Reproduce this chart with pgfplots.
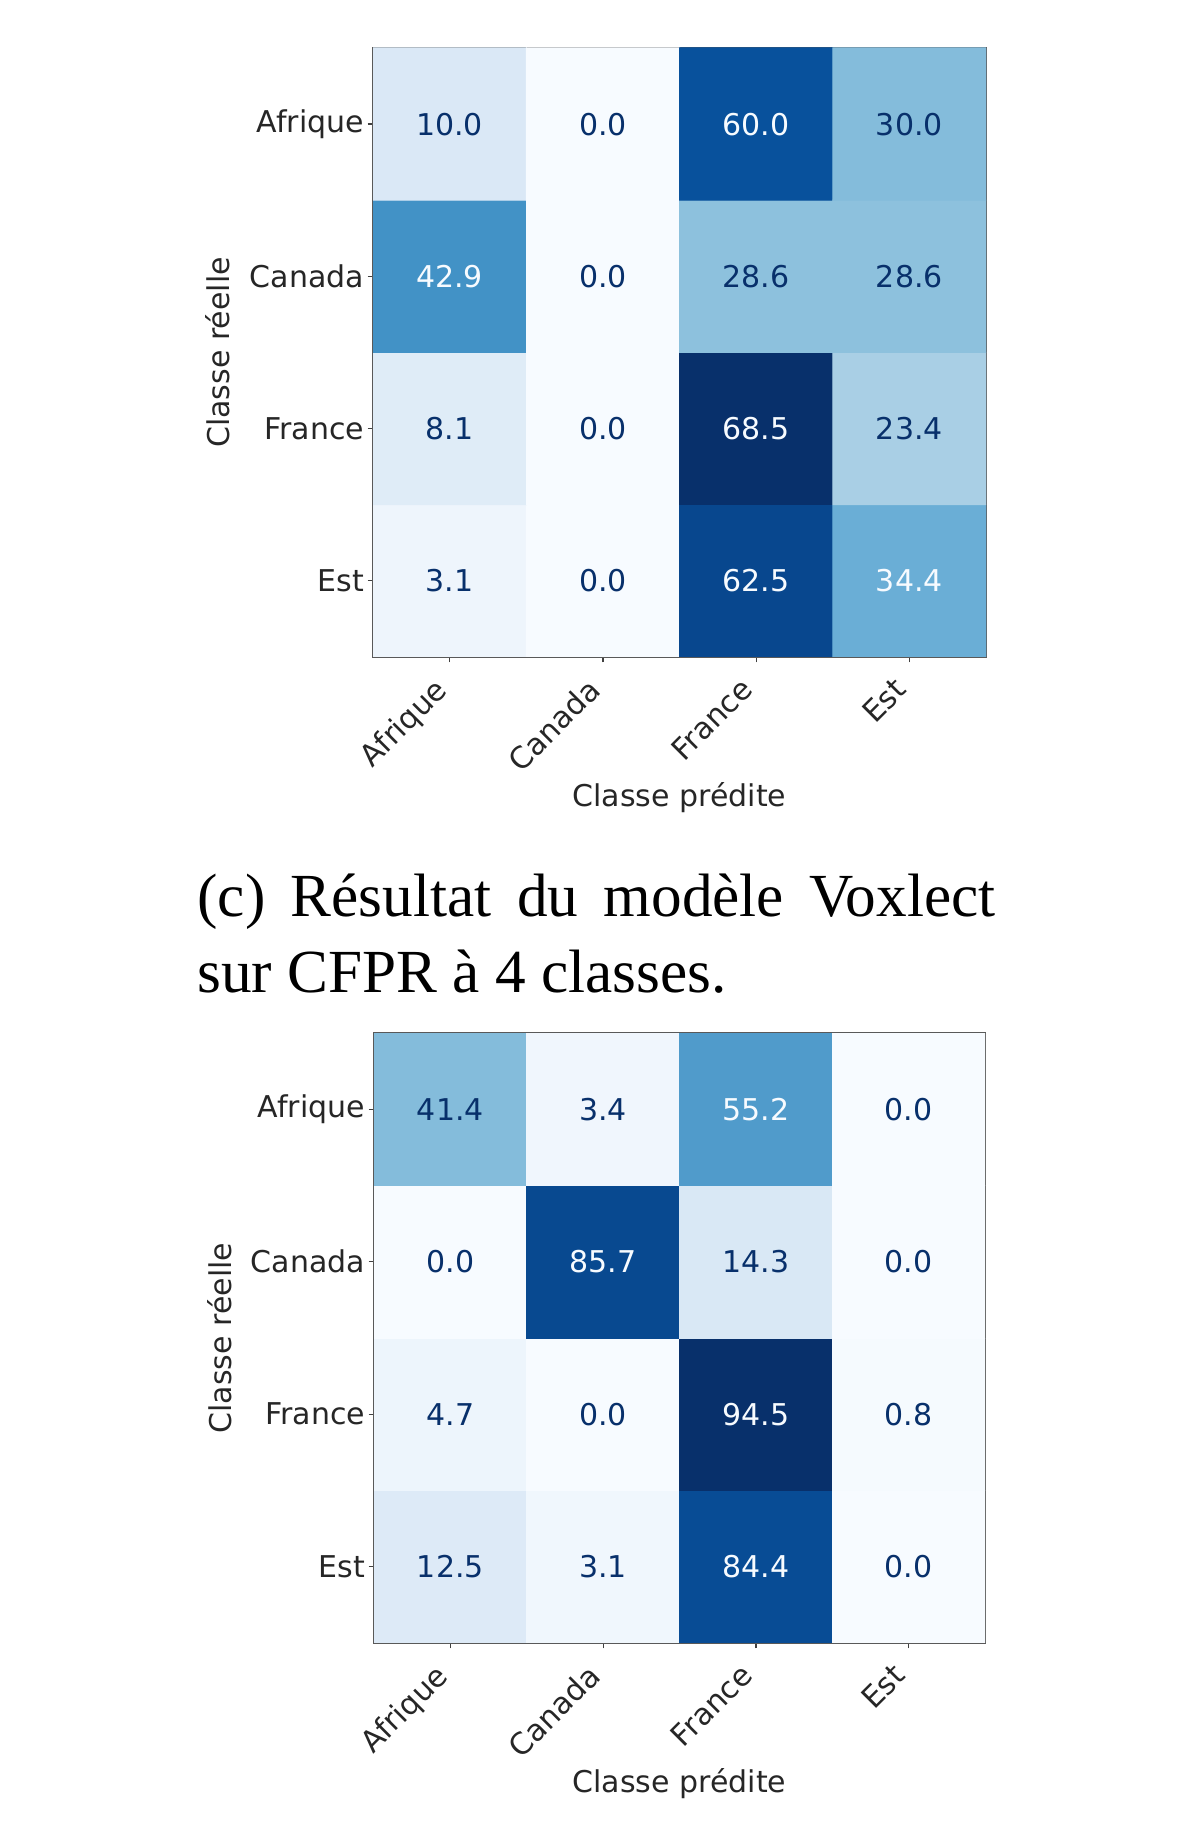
\documentclass[border=0pt]{standalone}
\usepackage{fontspec}
\setmainfont{DejaVu Sans}
\newfontfamily\capfont{Liberation Serif}
\usepackage{pgfplots}
\usepackage{pgfplotstable}
\pgfplotsset{compat=1.18}
\definecolor{cd}{HTML}{08306B}
\definecolor{cw}{HTML}{F7FBFF}
\pgfplotsset{colormap={mplblues}{rgb255=(247,251,255) rgb255=(222,235,247) rgb255=(198,219,239) rgb255=(158,202,225) rgb255=(107,174,214) rgb255=(66,146,198) rgb255=(33,113,181) rgb255=(8,81,156) rgb255=(8,48,107)}}

% rows: y=3 Afrique, 2 Canada, 1 France, 0 Est ; cols x=0 Afrique ... 3 Est
% Matrix 1 (top): cells below half of max (dark text)
\pgfplotstableread{
x y v
0 0 3.1
1 0 0.0
0 1 8.1
1 1 0.0
3 1 23.4
1 2 0.0
2 2 28.6
3 2 28.6
0 3 10.0
1 3 0.0
3 3 30.0
}\dataAd
% Matrix 1: cells above half of max (light text)
\pgfplotstableread{
x y v
2 0 62.5
3 0 34.4
2 1 68.5
0 2 42.9
2 3 60.0
}\dataAw

% Matrix 2 (bottom): dark text
\pgfplotstableread{
x y v
0 0 12.5
1 0 3.1
3 0 0.0
0 1 4.7
1 1 0.0
3 1 0.8
0 2 0.0
2 2 14.3
3 2 0.0
0 3 41.4
1 3 3.4
3 3 0.0
}\dataBd
% Matrix 2: light text
\pgfplotstableread{
x y v
2 0 84.4
2 1 94.5
1 2 85.7
2 3 55.2
}\dataBw

\newcommand\fs{\fontsize{12}{14}\selectfont}

\pgfplotsset{
  vals/.style={only marks, mark=none, point meta=explicit symbolic,
    nodes near coords,
    every node near coord/.append style={anchor=center, inner sep=0pt, font=\fs, text=#1}},
}

\pgfplotsset{cm/.style={
  scale only axis, enlargelimits=false,
  xmin=-0.5, xmax=3.5, ymin=-0.5, ymax=3.5,
  xtick={0,1,2,3}, ytick={0,1,2,3},
  xticklabels={Afrique,Canada,France,Est},
  yticklabels={Est,France,Canada,Afrique},
  xtick pos=bottom, ytick pos=left, tick align=outside,
  major tick length=2.2pt,
  tick style={black!75, line width=0.5pt},
  axis line style={black!65, line width=0.7pt},
  colormap name=mplblues,
  ticklabel style={font=\fs, text=black!85},
  yticklabel style={inner sep=0pt, xshift=-1.2pt},
  xticklabel style={inner sep=0pt, xshift=-6.8pt, yshift=-5.2pt, anchor=north east, rotate=45},
  xlabel={Classe prédite}, ylabel={Classe réelle},
  label style={font=\fs, text=black!85},
  xlabel style={at={(axis description cs:0.5,-0.245)}, anchor=base, inner sep=0pt},
  ylabel style={at={(axis description cs:-0.232,0.5)}, anchor=south, inner sep=0pt},
}}

\begin{document}
\begin{tikzpicture}
\path[use as bounding box] (0,0) rectangle (480pt,738.8pt);

\begin{axis}[cm, at={(149.2pt,476pt)}, anchor=south west,
  width=245.2pt, height=243.6pt, point meta min=0, point meta max=68.5]
\addplot[matrix plot*, mesh/cols=4, point meta=explicit] coordinates {
  (0,0) [3.1] (1,0) [0.0] (2,0) [62.5] (3,0) [34.4]

  (0,1) [8.1] (1,1) [0.0] (2,1) [68.5] (3,1) [23.4]

  (0,2) [42.9] (1,2) [0.0] (2,2) [28.6] (3,2) [28.6]

  (0,3) [10.0] (1,3) [0.0] (2,3) [60.0] (3,3) [30.0]
};
\addplot[vals=cd] table[x=x,y=y,meta=v]{\dataAd};
\addplot[vals=cw] table[x=x,y=y,meta=v]{\dataAw};
\end{axis}

\node[anchor=base west, inner sep=0pt] at (78.8pt,372pt)
  {\parbox[t]{319.2pt}{\capfont\fontsize{24.5}{30.4}\selectfont\noindent (c) Résultat du modèle Voxlect\linebreak sur CFPR à 4 classes.}};

\begin{axis}[cm, at={(149.6pt,81.6pt)}, anchor=south west,
  width=244.4pt, height=244pt, point meta min=0, point meta max=94.5]
\addplot[matrix plot*, mesh/cols=4, point meta=explicit] coordinates {
  (0,0) [12.5] (1,0) [3.1] (2,0) [84.4] (3,0) [0.0]

  (0,1) [4.7] (1,1) [0.0] (2,1) [94.5] (3,1) [0.8]

  (0,2) [0.0] (1,2) [85.7] (2,2) [14.3] (3,2) [0.0]

  (0,3) [41.4] (1,3) [3.4] (2,3) [55.2] (3,3) [0.0]
};
\addplot[vals=cd] table[x=x,y=y,meta=v]{\dataBd};
\addplot[vals=cw] table[x=x,y=y,meta=v]{\dataBw};
\end{axis}
\end{tikzpicture}
\end{document}
